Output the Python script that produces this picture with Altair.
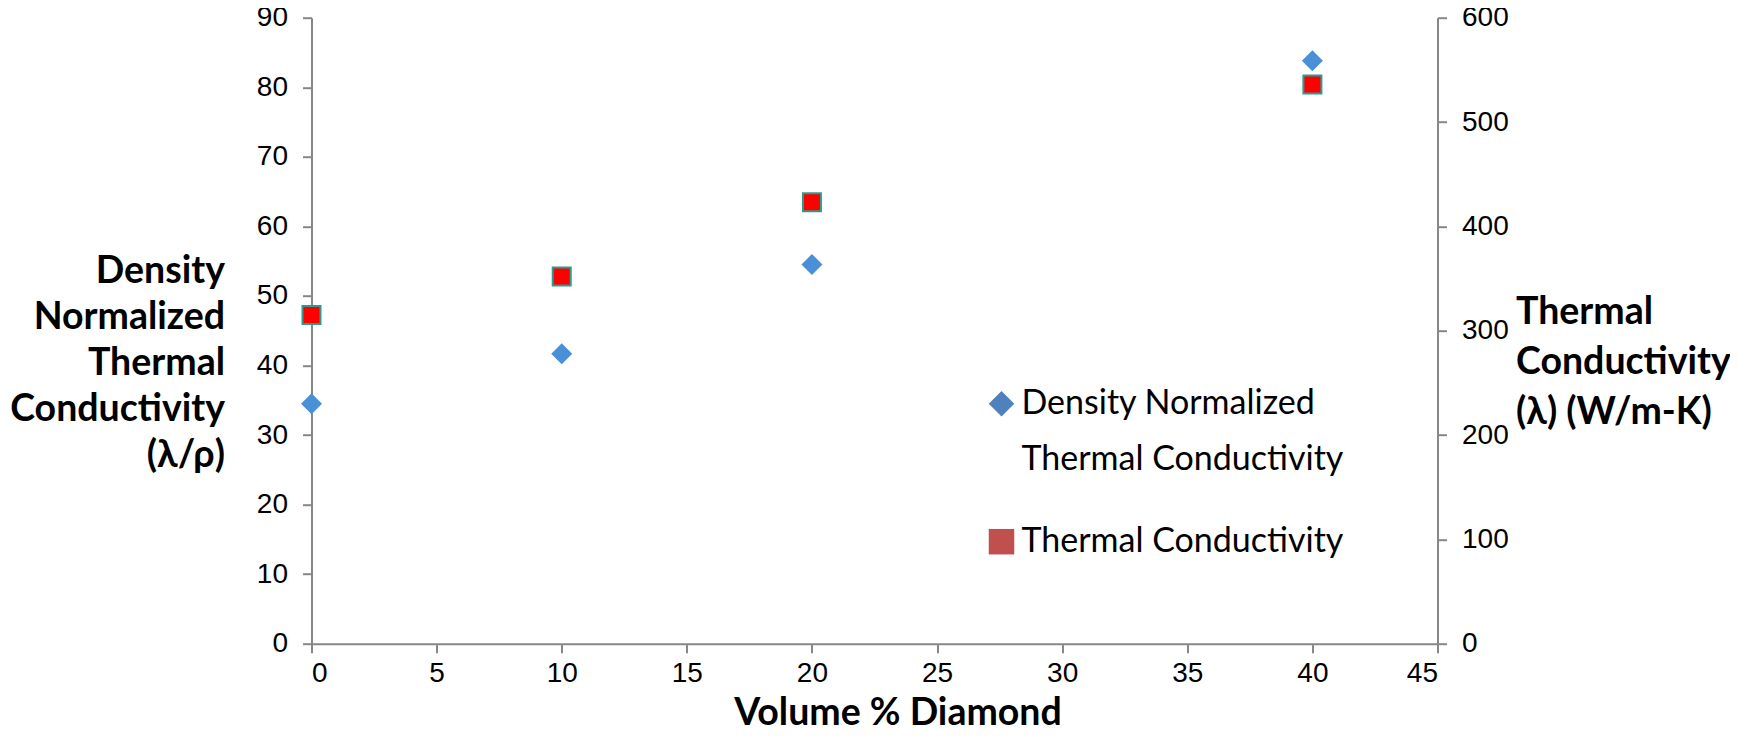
import altair as alt
import pandas as pd

# ---- data ----
volume = [0, 10, 20, 40]
density_norm = [34.5, 41.7, 54.5, 83.8]
thermal_cond = [315, 352, 423, 536]

x_ticks = [0, 5, 10, 15, 20, 25, 30, 35, 40, 45]
left_ticks = [0, 10, 20, 30, 40, 50, 60, 70, 80, 90]
right_ticks = [0, 100, 200, 300, 400, 500, 600]

legend_lines_1 = ["Density Normalized", "Thermal Conductivity"]
legend_lines_2 = ["Thermal Conductivity"]

left_title = ["Density", "Normalized", "Thermal", "Conductivity", "(λ/ρ)"]
right_title = ["Thermal", "Conductivity", "(λ) (W/m-K)"]
x_title = "Volume % Diamond"

df = pd.DataFrame({"vol": volume, "dn": density_norm, "tc": thermal_cond})

W, H = 1126, 626
AX = "#878787"
TICKFONT = "Liberation Sans"
TITLEFONT = "Lato"

common_axis = dict(
    domainColor=AX, domainWidth=2, tickColor=AX, tickWidth=2, tickSize=9,
    labelFont=TICKFONT, labelFontSize=28, labelColor="black", grid=False,
    titleFont=TITLEFONT, titleFontWeight="bold", titleFontSize=37.5, titleColor="black",
)

x_enc = alt.X(
    "vol:Q",
    scale=alt.Scale(domain=[0, 45], nice=False, zero=False),
    axis=alt.Axis(values=x_ticks, title=x_title, labelPadding=7,
                  titleX=586, titleY=70, titleAlign="center", titleBaseline="middle",
                  **common_axis),
)

left_axis = alt.Axis(values=left_ticks, title=left_title, orient="left", labelPadding=15,
                     titleAngle=0, titleAlign="right", titleBaseline="middle",
                     titleX=-87, titleY=254, titleLineHeight=46, **common_axis)
right_axis = alt.Axis(values=right_ticks, title=right_title, orient="right", labelPadding=15,
                      titleAngle=0, titleAlign="left", titleBaseline="middle",
                      titleX=78, titleY=295, titleLineHeight=50, **common_axis)

base = alt.Chart(df)

diamonds = base.mark_point(shape="diamond", filled=True, size=441, color="#4A90D9", opacity=1).encode(
    x=x_enc,
    y=alt.Y("dn:Q", scale=alt.Scale(domain=[0, 90], nice=False), axis=left_axis),
)

squares = base.mark_square(size=324, fill="#FF0000", stroke="#2A9D8F", strokeWidth=2, opacity=1).encode(
    x=x_enc,
    y=alt.Y("tc:Q", scale=alt.Scale(domain=[0, 600], nice=False), axis=right_axis),
)

leg_common = dict(orient="none", title=None, labelFont="Lato", labelFontSize=34, labelColor="black",
                  labelLimit=800, symbolSize=650, symbolStrokeWidth=0, symbolOpacity=1,
                  labelOffset=3, padding=0)

leg1 = alt.Chart(pd.DataFrame({"s": legend_lines_1})).mark_point(shape="diamond", filled=True, opacity=0).encode(
    color=alt.Color("s:N", sort=legend_lines_1,
                    scale=alt.Scale(domain=legend_lines_1, range=["#4F81BD", "transparent"]),
                    legend=alt.Legend(legendX=673, legendY=369, rowPadding=22, **leg_common)),
)

leg2 = alt.Chart(pd.DataFrame({"s": legend_lines_2})).mark_point(shape="square", filled=True, opacity=0).encode(
    fill=alt.Fill("s:N",
                  scale=alt.Scale(domain=legend_lines_2, range=["#C0504D"]),
                  legend=alt.Legend(legendX=673, legendY=507, **leg_common)),
)

chart = alt.layer(diamonds, squares, leg1, leg2).resolve_scale(y="independent").properties(
    width=W, height=H,
    autosize=alt.AutoSizeParams(type="none"),
    padding={"left": 303.5, "top": 9.7, "right": 292.5, "bottom": 84.3},
    background="white",
).configure_view(stroke=None)

chart.save("out.html", embed_options={"renderer": "svg", "actions": False})
